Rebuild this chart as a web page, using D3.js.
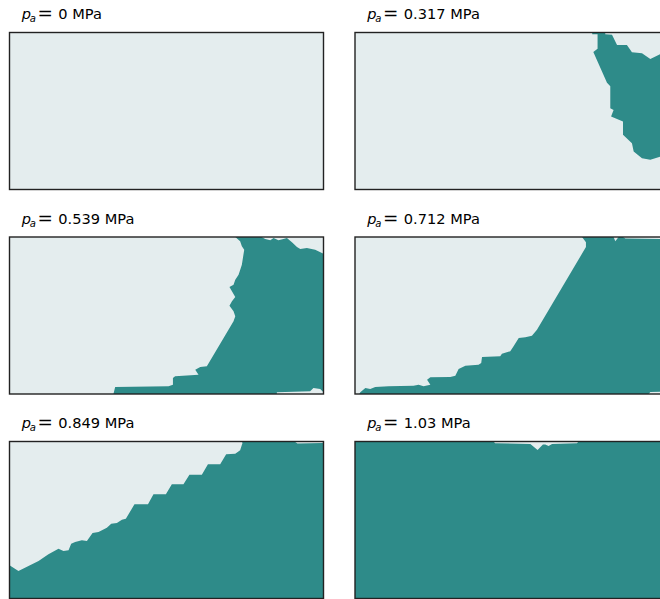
<!DOCTYPE html>
<html>
<head>
<meta charset="utf-8">
<script src="https://cdn.jsdelivr.net/npm/d3@7"></script>
<style>
  body { margin: 0; background: #fff; }
  svg { display: block; }
</style>
</head>
<body>
<svg id="chart"></svg>
<script>
// applied pressure of each snapshot (MPa)
const pressures = ["0", "0.317", "0.539", "0.712", "0.849", "1.03"];

// outline of the saturated (teal) zone per snapshot, [x (m), depth (m)]
const zone0 = [];
const zone317 = [
  [1.511, 0], [1.511, 0.011], [1.545, 0.011], [1.545, 0.104], [1.518, 0.124],
  [1.605, 0.320], [1.626, 0.342], [1.626, 0.482], [1.647, 0.493], [1.631, 0.535],
  [1.707, 0.567], [1.707, 0.652], [1.764, 0.705], [1.775, 0.758], [1.828, 0.801],
  [1.881, 0.811], [1.945, 0.790], [2, 0.80], [2, 0.13], [1.945, 0.138],
  [1.881, 0.168], [1.828, 0.132], [1.764, 0.125], [1.732, 0.079], [1.669, 0.079],
  [1.637, 0.015], [1.594, 0.011], [1.594, 0]
];
const zone539 = [
  [1.438, 0], [1.469, 0.027], [1.480, 0.059], [1.495, 0.081], [1.480, 0.176],
  [1.459, 0.240], [1.438, 0.272], [1.427, 0.304], [1.401, 0.318], [1.438, 0.382],
  [1.417, 0.410], [1.401, 0.438], [1.427, 0.473], [1.438, 0.505], [1.427, 0.537],
  [1.257, 0.824], [1.215, 0.828], [1.183, 0.845], [1.204, 0.877], [1.055, 0.887],
  [1.041, 0.898], [1.041, 0.941], [1.013, 0.951], [0.673, 0.955], [0.662, 1],
  [1.703, 1], [1.703, 0.989], [1.915, 0.983], [1.936, 0.962], [1.979, 0.968],
  [2, 0.989], [2, 0.106], [1.947, 0.081], [1.894, 0.070], [1.852, 0.076],
  [1.831, 0.064], [1.799, 0.034], [1.767, 0.006], [1.745, 0.013], [1.713, 0.021],
  [1.682, 0.006], [1.661, 0.021], [1.629, 0.013], [1.605, 0]
];
const zone712 = [
  [1.446, 0], [1.471, 0.034], [1.471, 0.064], [1.159, 0.590], [1.127, 0.629],
  [1.085, 0.639], [1.043, 0.643], [1.010, 0.696], [0.989, 0.728], [0.936, 0.743],
  [0.925, 0.760], [0.809, 0.764], [0.804, 0.803], [0.787, 0.813], [0.703, 0.820],
  [0.660, 0.841], [0.639, 0.883], [0.607, 0.892], [0.480, 0.894], [0.459, 0.909],
  [0.480, 0.941], [0.437, 0.951], [0.405, 0.941], [0.373, 0.947], [0.214, 0.951],
  [0.129, 0.955], [0.097, 0.968], [0.066, 0.962], [0.034, 0.989], [0.027, 1],
  [1.870, 1], [1.881, 0.987], [2, 0.985], [2, 0.013], [1.722, 0.010],
  [1.707, 0], [1.679, 0], [1.658, 0.027], [1.647, 0]
];
const zone849 = [
  [0, 0.789], [0.057, 0.825], [0.185, 0.761], [0.248, 0.718], [0.312, 0.683],
  [0.344, 0.697], [0.376, 0.693], [0.393, 0.651], [0.418, 0.640], [0.461, 0.629],
  [0.493, 0.634], [0.529, 0.583], [0.567, 0.576], [0.620, 0.549], [0.648, 0.524],
  [0.684, 0.519], [0.716, 0.498], [0.741, 0.492], [0.796, 0.400], [0.882, 0.400],
  [0.917, 0.336], [0.996, 0.336], [1.034, 0.273], [1.108, 0.273], [1.146, 0.211],
  [1.225, 0.211], [1.264, 0.145], [1.342, 0.145], [1.380, 0.082], [1.438, 0.078],
  [1.469, 0.056], [1.484, 0.010], [1.480, 0], [1.815, 0], [1.834, 0.013],
  [1.994, 0.010], [2, 0], [2, 1], [0, 1]
];
const zone1030 = [
  [0, 0], [0.883, 0], [0.892, 0.011], [1.117, 0.016], [1.163, 0.054],
  [1.197, 0.019], [1.212, 0.019], [1.233, 0.029], [1.255, 0.016], [1.414, 0.011],
  [1.424, 0], [2, 0], [2, 1], [0, 1]
];
const zones = [zone0, zone317, zone539, zone712, zone849, zone1030];

const LIGHT = '#e4edee';
const TEAL = '#2e8b89';

const W = 660, H = 599;
const panelW = 314, panelH = 157;
const colX = [9.5, 355];
const rowY = [32.5, 237, 441.5];

const x = d3.scaleLinear().domain([0, 2]).range([0, panelW]);
const y = d3.scaleLinear().domain([0, 1]).range([0, panelH]);
const line = d3.line().x(d => x(d[0])).y(d => y(d[1]));

const svg = d3.select('#chart').attr('width', W).attr('height', H);

svg.append('defs').append('clipPath')
  .attr('id', 'panel-clip')
  .append('rect')
  .attr('width', panelW)
  .attr('height', panelH);

pressures.forEach((p, i) => {
  const g = svg.append('g')
    .attr('transform', `translate(${colX[i % 2]},${rowY[Math.floor(i / 2)]})`);

  g.append('rect')
    .attr('width', panelW)
    .attr('height', panelH)
    .attr('fill', LIGHT);

  if (zones[i].length) {
    g.append('path')
      .attr('clip-path', 'url(#panel-clip)')
      .attr('d', line(zones[i]) + 'Z')
      .attr('fill', TEAL);
  }

  g.append('rect')
    .attr('width', panelW)
    .attr('height', panelH)
    .attr('fill', 'none')
    .attr('stroke', '#222')
    .attr('stroke-width', 1.4);

  // title: p_a = ... MPa
  const t = g.append('text')
    .attr('x', 12.3)
    .attr('y', -13.3)
    .attr('font-family', 'DejaVu Sans, sans-serif')
    .attr('font-size', 14.6)
    .attr('fill', '#000');
  t.append('tspan').attr('font-style', 'italic').text('p');
  t.append('tspan').attr('x', 20.3).attr('dy', 2.8)
    .attr('font-style', 'italic').attr('font-size', 10).text('a');
  t.append('tspan').attr('x', 28).attr('dy', -2.8)
    .attr('font-size', 18.5).attr('textLength', 15.4)
    .attr('lengthAdjust', 'spacingAndGlyphs').text('=');
  t.append('tspan').attr('x', 48.8).text(`${p} MPa`);
});
</script>
</body>
</html>
